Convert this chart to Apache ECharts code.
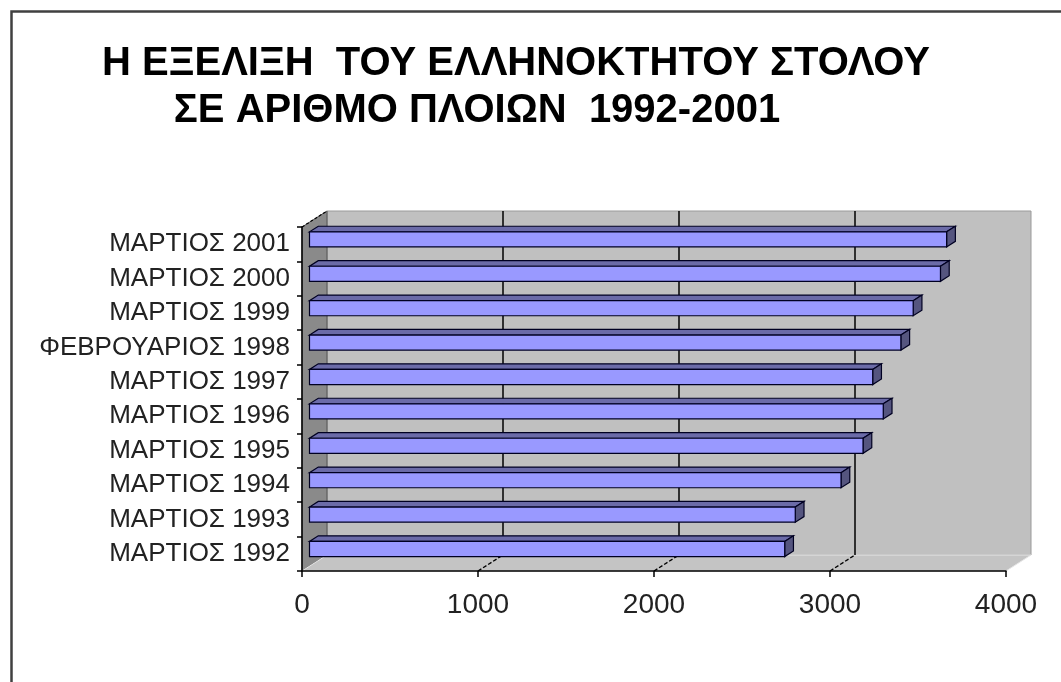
<!DOCTYPE html>
<html>
<head>
<meta charset="utf-8">
<script src="https://cdn.jsdelivr.net/npm/echarts@6/dist/echarts.min.js"></script>
<style>
  html, body { margin: 0; padding: 0; background: #ffffff; }
  #chart { width: 1061px; height: 682px; }
</style>
</head>
<body>
<div id="chart"></div>
<script>
// ---- data ----
const titleLine1 = 'Η ΕΞΕΛΙΞΗ  ΤΟΥ ΕΛΛΗΝΟΚΤΗΤΟΥ ΣΤΟΛΟΥ';
const titleLine2 = 'ΣΕ ΑΡΙΘΜΟ ΠΛΟΙΩΝ  1992-2001';
const categories = [
  'ΜΑΡΤΙΟΣ 1992', 'ΜΑΡΤΙΟΣ 1993', 'ΜΑΡΤΙΟΣ 1994', 'ΜΑΡΤΙΟΣ 1995',
  'ΜΑΡΤΙΟΣ 1996', 'ΜΑΡΤΙΟΣ 1997', 'ΦΕΒΡΟΥΑΡΙΟΣ 1998', 'ΜΑΡΤΙΟΣ 1999',
  'ΜΑΡΤΙΟΣ 2000', 'ΜΑΡΤΙΟΣ 2001'
];
const ships = [2700, 2760, 3020, 3145, 3260, 3200, 3360, 3430, 3585, 3620];
const xTicks = [0, 1000, 2000, 3000, 4000];

// ---- style constants (3D look) ----
const DX = 25, DY = -16;          // depth vector of the 3D box
const F0 = 0.30, F1 = 0.65;        // bar front / back depth fractions
const BAR_RATIO = 0.44;

const chart = echarts.init(document.getElementById('chart'), null, { renderer: 'canvas' });

function wallsRender(params, api) {
  const xMin = xTicks[0], xMax = xTicks[xTicks.length - 1];
  const band = api.size([0, 1])[1];
  const pBot = api.coord([xMin, 0]);
  const pTop = api.coord([xMin, categories.length - 1]);
  const left = pBot[0];
  const right = api.coord([xMax, 0])[0];
  const bottom = pBot[1] + band / 2;
  const top = pTop[1] - band / 2;
  const children = [];
  // back wall
  children.push({ type: 'polygon', shape: { points: [
      [left + DX, top + DY], [right + DX, top + DY], [right + DX, bottom + DY], [left + DX, bottom + DY]] },
    style: { fill: '#c0c0c0', stroke: '#9a9a9a', lineWidth: 1 } });
  // left side wall
  children.push({ type: 'polygon', shape: { points: [
      [left, top], [left + DX, top + DY], [left + DX, bottom + DY], [left, bottom]] },
    style: { fill: '#8a8a8a', stroke: '#555555', lineWidth: 1 } });
  // floor
  children.push({ type: 'polygon', shape: { points: [
      [left, bottom], [right, bottom], [right + DX, bottom + DY], [left + DX, bottom + DY]] },
    style: { fill: '#c4c4c4', stroke: '#e6e6e6', lineWidth: 1 } });
  // gridlines on back wall + floor diagonals
  xTicks.forEach(function (t) {
    const x = api.coord([t, 0])[0];
    if (t > xMin && t < xMax) {
      children.push({ type: 'line', shape: { x1: x + DX, y1: top + DY, x2: x + DX, y2: bottom + DY },
        style: { stroke: '#000000', lineWidth: 1.5 } });
      children.push({ type: 'line', shape: { x1: x, y1: bottom, x2: x + DX, y2: bottom + DY },
        style: { stroke: '#000000', lineWidth: 1.3, lineDash: [4, 2] } });
    }
  });
  // top-left corner edge
  children.push({ type: 'line', shape: { x1: left, y1: top, x2: left + DX, y2: top + DY },
    style: { stroke: '#000000', lineWidth: 1.2, lineDash: [3, 2] } });
  return { type: 'group', children: children };
}

function barRender(params, api) {
  const v = api.value(0), i = api.value(1);
  const p0 = api.coord([0, i]);
  const p1 = api.coord([v, i]);
  const band = api.size([0, 1])[1];
  const h = band * BAR_RATIO;
  const x0 = p0[0] + F0 * DX, x1 = p1[0] + F0 * DX;
  const yc = p0[1] + F0 * DY;
  const yT = yc - h / 2, yB = yc + h / 2;
  const ex = (F1 - F0) * DX, ey = (F1 - F0) * DY;
  const stroke = '#000022';
  return { type: 'group', children: [
    { type: 'polygon', shape: { points: [[x0, yT], [x1, yT], [x1 + ex, yT + ey], [x0 + ex, yT + ey]] },
      style: { fill: '#6b6ba8', stroke: stroke, lineWidth: 1.2 } },
    { type: 'polygon', shape: { points: [[x1, yT], [x1 + ex, yT + ey], [x1 + ex, yB + ey], [x1, yB]] },
      style: { fill: '#55557f', stroke: stroke, lineWidth: 1.2 } },
    { type: 'rect', shape: { x: x0, y: yT, width: x1 - x0, height: h },
      style: { fill: '#9999ff', stroke: stroke, lineWidth: 1.2 } }
  ] };
}

const option = {
  backgroundColor: '#ffffff',
  animation: false,
  textStyle: { fontFamily: 'Liberation Sans' },
  title: [
    { text: titleLine1, left: 511, top: 39, textAlign: 'center',
      textStyle: { fontFamily: 'Liberation Sans', fontWeight: 'bold', fontSize: 40, color: '#000000' } },
    { text: titleLine2, left: 472, top: 86, textAlign: 'center',
      textStyle: { fontFamily: 'Liberation Sans', fontWeight: 'bold', fontSize: 40, color: '#000000' } }
  ],
  graphic: [
    { type: 'rect', left: 9, top: 9, silent: true,
      shape: { width: 1100, height: 700 },
      style: { fill: 'none', stroke: '#404040', lineWidth: 2.5 } }
  ],
  grid: { left: 302, right: 55, top: 227, bottom: 111, containLabel: false },
  xAxis: {
    type: 'value', min: xTicks[0], max: xTicks[xTicks.length - 1], interval: 1000, z: 5,
    axisLine: { show: true, lineStyle: { color: '#000000', width: 1.5 } },
    axisTick: { show: true, length: 6, lineStyle: { color: '#000000', width: 1.5 } },
    splitLine: { show: false },
    axisLabel: { margin: 20, fontSize: 28, color: '#222222', fontFamily: 'Liberation Sans',
      formatter: function (v) { return String(v); } }
  },
  yAxis: {
    type: 'category', data: categories, z: 5,
    axisLine: { show: true, lineStyle: { color: '#000000', width: 1.5 } },
    axisTick: { show: true, length: 5, interval: 0, lineStyle: { color: '#000000', width: 1.5 } },
    splitLine: { show: false },
    axisLabel: { interval: 0, hideOverlap: false, margin: 12, fontSize: 26, color: '#222222', fontFamily: 'Liberation Sans' }
  },
  series: [
    { type: 'custom', name: 'walls', coordinateSystem: 'cartesian2d', z: 1, silent: true,
      renderItem: wallsRender, data: [[0, 0]], encode: { x: 0, y: 1 } },
    { type: 'custom', name: 'ships', coordinateSystem: 'cartesian2d', z: 3,
      renderItem: barRender, data: ships.map(function (v, i) { return [v, i]; }), encode: { x: 0, y: 1 } }
  ]
};
chart.setOption(option);
</script>
</body>
</html>
